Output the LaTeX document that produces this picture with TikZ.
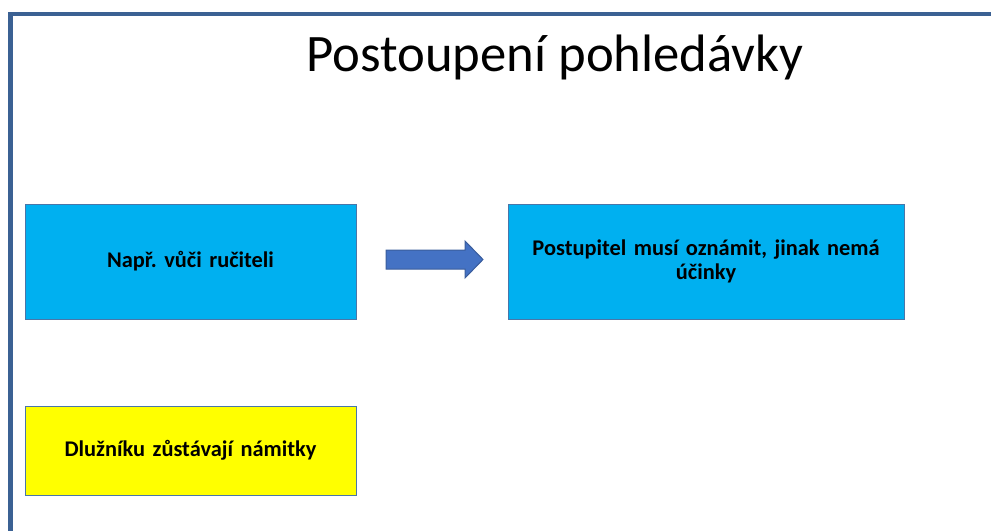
\documentclass[tikz,border=0pt]{standalone}
\usepackage{fontspec}
\setmainfont{Carlito}
\definecolor{framecol}{HTML}{3B6193}
\definecolor{boxblue}{HTML}{00B0F0}
\definecolor{boxyellow}{HTML}{FFFF00}
\definecolor{edgeblue}{HTML}{4A76A8}
\definecolor{arrowfill}{HTML}{4472C4}
\definecolor{arrowedge}{HTML}{3A5D9C}
\newcommand{\drawbox}[7]{
  \node[textbox, fill=#2,
    minimum width={(#5-#3)*0.75pt}, minimum height={(#6-#4)*0.75pt},
    text width={(#5-#3-20)*0.75pt}]
    (#1) at ({(#3+#5)/2},{(#4+#6)/2}) {#7};
}
\begin{document}
\frenchspacing
\begin{tikzpicture}[x=0.75pt,y=-0.75pt,
  textbox/.style={draw=edgeblue, line width=0.75pt, inner sep=0pt,
    align=center, font=\bfseries\fontsize{16.8}{17.5}\selectfont},
  heading/.style={anchor=base, inner sep=0pt, font=\fontsize{39.5}{46}\selectfont},
  blockarrow/.style={draw=arrowedge, fill=arrowfill, line width=0.75pt, line join=miter}]
  \useasboundingbox (0,0) rectangle (991,531);
  % frame
  \draw[framecol, line width=3.5pt] (10.5,531) -- (10.5,14) -- (991,14);

  \node[heading] (title) at (555,72) {Postoupení pohledávky};

  \drawbox{ruc}{boxblue}{25}{204}{356}{319}{Např. vůči ručiteli}
  \drawbox{ozn}{boxblue}{508}{204}{904}{319}{Postupitel musí oznámit, jinak nemá\\účinky}
  \drawbox{nam}{boxyellow}{25}{406}{356}{495}{Dlužníku zůstávají námitky}

  % arrow between the upper boxes
  \coordinate (tail) at (386,259.5);
  \draw[blockarrow] (tail) ++(0,-9.5) -- ++(79,0) -- ++(0,-9) -- ++(18,18.5)
    -- ++(-18,18.5) -- ++(0,-9) -- ++(-79,0) -- cycle;
\end{tikzpicture}
\end{document}
